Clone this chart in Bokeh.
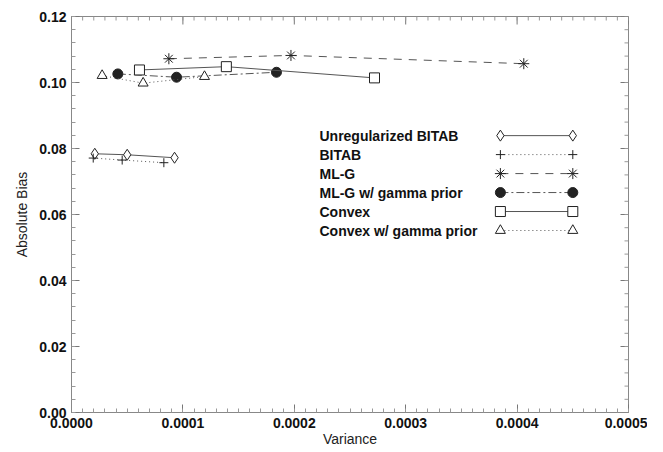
from bokeh.plotting import figure
from bokeh.models import Range1d, FixedTicker, PrintfTickFormatter
from bokeh.core.properties import value
from bokeh.embed import file_html
from bokeh.resources import INLINE

# ---- data ----
series_names = ["Unregularized BITAB", "BITAB", "ML-G", "ML-G w/ gamma prior",
                "Convex", "Convex w/ gamma prior"]
ub_x = [0.0000209, 0.0000500, 0.0000925]
ub_y = [0.0784, 0.0781, 0.0772]
bitab_x = [0.0000195, 0.0000455, 0.0000829]
bitab_y = [0.0771, 0.0765, 0.0757]
mlg_x = [0.0000874, 0.000197, 0.000406]
mlg_y = [0.1072, 0.1082, 0.1057]
mlgg_x = [0.0000416, 0.0000943, 0.000184]
mlgg_y = [0.1026, 0.1016, 0.1031]
cvx_x = [0.000061, 0.000139, 0.000272]
cvx_y = [0.1038, 0.1048, 0.1014]
cvxg_x = [0.0000275, 0.0000643, 0.0001194]
cvxg_y = [0.1021, 0.0998, 0.1018]

x_ticks = [0.0, 0.0001, 0.0002, 0.0003, 0.0004, 0.0005]
y_ticks = [0.0, 0.02, 0.04, 0.06, 0.08, 0.10, 0.12]
x_minor = [i * 0.00001 for i in range(51)]
y_minor = [i * 0.004 for i in range(31)]

X_MAX, Y_MAX = 0.0005, 0.12
FONT = "Liberation Sans"
LINE = "#555555"
MARK = "#222222"

p = figure(width=647, height=451, output_backend="svg", toolbar_location=None,
           x_range=Range1d(0, X_MAX), y_range=Range1d(0, Y_MAX),
           min_border_left=71, min_border_right=19, min_border_top=16,
           min_border_bottom=39)
p.grid.visible = False
p.outline_line_color = "#888888"
p.background_fill_color = "white"


def style_axis(ax, ticks, minor, fmt):
    ax.ticker = FixedTicker(ticks=ticks, minor_ticks=minor)
    ax.formatter = PrintfTickFormatter(format=fmt)
    ax.axis_line_color = "#888888"
    ax.major_tick_line_color = "#777777"
    ax.minor_tick_line_color = "#999999"
    ax.major_tick_in = 8
    ax.major_tick_out = 0
    ax.minor_tick_in = 4
    ax.minor_tick_out = 0
    ax.major_label_text_font = FONT
    ax.major_label_text_font_style = "bold"
    ax.major_label_text_font_size = "14px"
    ax.major_label_text_color = "#111111"


xa = p.xaxis[0]
ya = p.yaxis[0]
style_axis(xa, x_ticks, x_minor, "%.4f")
style_axis(ya, y_ticks, y_minor, "%.2f")
xa.major_label_standoff = 5
ya.major_label_standoff = 5
xa.axis_label = "Variance"
ya.axis_label = "Absolute Bias"
for ax in (xa, ya):
    ax.axis_label_text_font = FONT
    ax.axis_label_text_font_style = "normal"
    ax.axis_label_text_font_size = "14px"
    ax.axis_label_text_color = "#222222"
xa.axis_label_standoff = 0
ya.axis_label_standoff = 6

# mirrored inward ticks on the top and right edges of the box
fw, fh = 557.0, 396.0  # approximate frame size in px
xmaj_len = 8 / fh * Y_MAX
xmin_len = 4 / fh * Y_MAX
ymaj_len = 8 / fw * X_MAX
ymin_len = 4 / fw * X_MAX
p.segment(x0=x_ticks, y0=[Y_MAX] * len(x_ticks), x1=x_ticks,
          y1=[Y_MAX - xmaj_len] * len(x_ticks), line_color="#777777")
p.segment(x0=x_minor, y0=[Y_MAX] * len(x_minor), x1=x_minor,
          y1=[Y_MAX - xmin_len] * len(x_minor), line_color="#999999")
p.segment(x0=[X_MAX] * len(y_ticks), y0=y_ticks, x1=[X_MAX - ymaj_len] * len(y_ticks),
          y1=y_ticks, line_color="#777777")
p.segment(x0=[X_MAX] * len(y_minor), y0=y_minor, x1=[X_MAX - ymin_len] * len(y_minor),
          y1=y_minor, line_color="#999999")

# ---- series ----
p.line(ub_x, ub_y, line_color=LINE, line_width=1)
p.scatter(ub_x, ub_y, marker="diamond", size=11, fill_color="white", line_color=MARK)

p.line(bitab_x, bitab_y, line_color=LINE, line_width=1, line_dash="1 3")
p.scatter(bitab_x, bitab_y, marker="cross", size=9, line_color=MARK)

p.line(mlg_x, mlg_y, line_color=LINE, line_width=1, line_dash="8 7")
p.scatter(mlg_x, mlg_y, marker="asterisk", size=11, line_color=MARK)

p.line(mlgg_x, mlgg_y, line_color=LINE, line_width=1, line_dash="8 3 2 3")
p.scatter(mlgg_x, mlgg_y, marker="circle", size=10, fill_color=MARK, line_color=MARK)

p.line(cvx_x, cvx_y, line_color=LINE, line_width=1)
p.scatter(cvx_x, cvx_y, marker="square", size=10, fill_color="white", line_color=MARK)

p.line(cvxg_x, cvxg_y, line_color=LINE, line_width=1, line_dash="1 3")
p.scatter(cvxg_x, cvxg_y, marker="triangle", size=10, fill_color="white", line_color=MARK)

# ---- legend (text on the left, sample on the right) ----
leg_text_x = 0.0002226
leg_x0, leg_x1 = 0.000385, 0.000450
leg_y0, leg_dy = 0.0839, 0.00575
rows = [leg_y0 - i * leg_dy for i in range(len(series_names))]
p.text(x=[leg_text_x] * len(rows), y=rows, text=series_names,
       text_font=value(FONT), text_font_style="bold", text_font_size="14px",
       text_baseline="middle", text_align="left", text_color="#111111")

styles = [
    ("diamond", 11, "white", None),
    ("cross", 9, None, "1 3"),
    ("asterisk", 11, None, "8 7"),
    ("circle", 10, MARK, "8 3 2 3"),
    ("square", 10, "white", None),
    ("triangle", 10, "white", "1 3"),
]
for (mk, sz, fill, dash), ry in zip(styles, rows):
    kw = {} if dash is None else {"line_dash": dash}
    p.line([leg_x0, leg_x1], [ry, ry], line_color=LINE, line_width=1, **kw)
    skw = {"fill_color": fill} if fill else {}
    p.scatter([leg_x0, leg_x1], [ry, ry], marker=mk, size=sz, line_color=MARK, **skw)

open("out.html", "w").write(file_html(p, INLINE))
